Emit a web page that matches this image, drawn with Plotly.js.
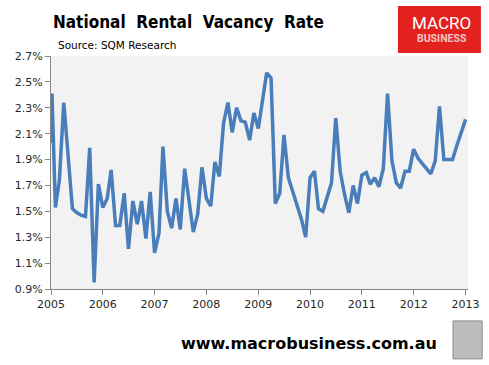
<!DOCTYPE html>
<html>
<head>
<meta charset="utf-8">
<script src="https://cdn.plot.ly/plotly-3.0.1.min.js"></script>
<style>
html,body{margin:0;padding:0;background:#fff;}
#chart{width:489px;height:365px;}
</style>
</head>
<body>
<div id="chart"></div>
<script>
// National rental vacancy rate (%), monthly readings Jan 2005 - Jan 2013
const openingDate = '2005-01-01';
const openingValue = 2.03;
const startYear = 2005;
const vacancyRate = [
  2.41, 1.53, 1.74, 2.34, 1.93, 1.52, 1.49, 1.47, 1.46, 1.99, 0.95, 1.71,
  1.53, 1.60, 1.82, 1.39, 1.39, 1.64, 1.21, 1.58, 1.40, 1.58, 1.29, 1.65,
  1.18, 1.33, 2.00, 1.50, 1.37, 1.60, 1.36, 1.83, 1.58, 1.34, 1.48, 1.84,
  1.60, 1.54, 1.88, 1.77, 2.18, 2.34, 2.11, 2.30, 2.20, 2.19, 2.05, 2.26,
  2.14, 2.35, 2.57, 2.53, 1.56, 1.64, 2.09, 1.76, 1.65, 1.54, 1.44, 1.30,
  1.76, 1.81, 1.52, 1.50, 1.60, 1.72, 2.22, 1.81, 1.63, 1.49, 1.70, 1.56,
  1.78, 1.80, 1.71, 1.76, 1.69, 1.83, 2.41, 1.89, 1.72, 1.68, 1.81, 1.81,
  1.98, 1.91, 1.87, 1.83, 1.79, 1.89, 2.31, 1.90, 1.90, 1.90, 2.01, 2.11,
  2.21
];
const yearLabels = ['2005','2006','2007','2008','2009','2010','2011','2012','2013'];
const yTicks = [0.9, 1.1, 1.3, 1.5, 1.7, 1.9, 2.1, 2.3, 2.5, 2.7];
const yTickLabels = ['0.9%','1.1%','1.3%','1.5%','1.7%','1.9%','2.1%','2.3%','2.5%','2.7%'];

// build dates for the monthly readings
const months = vacancyRate.map((_, i) => {
  const y = startYear + Math.floor(i / 12);
  const m = (i % 12) + 1;
  return y + '-' + String(m).padStart(2, '0') + (i === 0 ? '-08' : '-01');
});
const xDates = [openingDate].concat(months);
const yVals = [openingValue].concat(vacancyRate);
const tickDates = yearLabels.map(y => y + '-01-01');

const trace = {
  x: xDates, y: yVals, type: 'scatter', mode: 'lines',
  line: {color: '#4A7EBB', width: 3.5, shape: 'linear'},
  hoverinfo: 'skip'
};

const axisGrey = '#868686';
const tickFont = {family: 'DejaVu Sans, sans-serif', size: 11, color: '#262626'};

const layout = {
  width: 489, height: 365,
  margin: {l: 51, r: 21, t: 56, b: 76},
  paper_bgcolor: '#ffffff',
  plot_bgcolor: '#F2F2F2',
  showlegend: false,
  title: {
    text: '<b>National\u00a0 Rental\u00a0 Vacancy\u00a0 Rate</b>',
    font: {family: 'DejaVu Sans Condensed, DejaVu Sans, sans-serif', size: 17, color: '#000'},
    x: 53/489, xanchor: 'left', xref: 'container',
    y: 1 - 22/365, yanchor: 'middle', yref: 'container'
  },
  xaxis: {
    type: 'date',
    range: ['2005-01-01', '2013-01-18'],
    tickvals: tickDates, ticktext: yearLabels,
    ticks: 'outside', ticklen: 5, tickcolor: axisGrey, tickwidth: 1,
    showline: true, linecolor: axisGrey, linewidth: 1,
    showgrid: false, zeroline: false,
    tickfont: tickFont
  },
  yaxis: {
    range: [0.9, 2.7],
    tickvals: yTicks, ticktext: yTickLabels,
    ticks: 'outside', ticklen: 5, tickcolor: axisGrey, tickwidth: 1,
    showline: true, linecolor: axisGrey, linewidth: 1,
    showgrid: false, zeroline: false,
    tickfont: tickFont
  },
  shapes: [
    {type: 'rect', xref: 'paper', yref: 'paper', x0: 0.832, x1: 1.031, y0: 1.013, y1: 1.215,
     fillcolor: '#E3211F', line: {width: 0}, layer: 'above'},
    {type: 'rect', xref: 'paper', yref: 'paper', x0: 0.964, x1: 1.034, y0: -0.300, y1: -0.137,
     fillcolor: '#BDBDBD', line: {color: '#8C8C8C', width: 1}, layer: 'above'}
  ],
  annotations: [
    {text: 'Source: SQM Research', xref: 'paper', yref: 'paper', x: 0.012, y: 1.047,
     xanchor: 'left', yanchor: 'middle', showarrow: false,
     font: {family: 'DejaVu Sans, sans-serif', size: 10.5, color: '#000'}},
    {text: 'MACRO', xref: 'paper', yref: 'paper', x: 0.937, y: 1.142,
     xanchor: 'center', yanchor: 'middle', showarrow: false,
     font: {family: 'Roboto, sans-serif', size: 17, color: '#ffffff'}},
    {text: '<b>BUSINESS</b>', xref: 'paper', yref: 'paper', x: 0.937, y: 1.073,
     xanchor: 'center', yanchor: 'middle', showarrow: false,
     font: {family: 'Roboto, sans-serif', size: 10.5, color: '#F6C4C4'}},
    {text: '<b>www.macrobusiness.com.au</b>', xref: 'paper', yref: 'paper', x: 0.619, y: -0.236,
     xanchor: 'center', yanchor: 'middle', showarrow: false,
     font: {family: 'DejaVu Sans, sans-serif', size: 16, color: '#000'}}
  ]
};

Plotly.newPlot('chart', [trace], layout, {staticPlot: true, displayModeBar: false});
</script>
</body>
</html>
